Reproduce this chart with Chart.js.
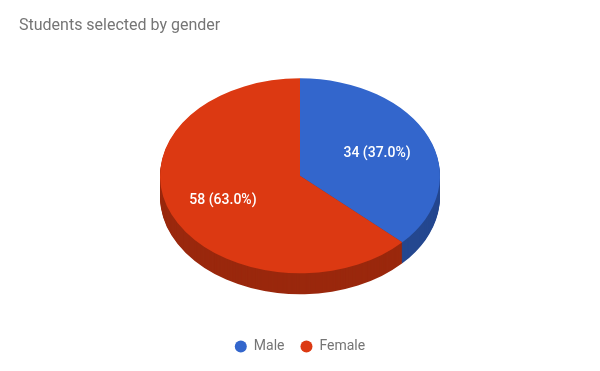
<!DOCTYPE html>
<html>
<head>
<meta charset="utf-8">
<style>html,body{margin:0;padding:0;background:#fff}canvas{display:block}</style>
<script src="https://cdn.jsdelivr.net/npm/chart.js@4"></script>
</head>
<body>
<canvas id="c" width="600" height="371"></canvas>
<script>
const titleText = "Students selected by gender";
const categories = ["Male", "Female"];
const counts = [34, 58];
const colors = ["#3366cc", "#dc3912"];
const sideColors = ["#24478f", "#9a280d"];
const percentLabels = ["34 (37.0%)", "58 (63.0%)"];
const labelFactorX = [0.60, 0.60];
const labelFactorY = [0.58, 0.64];

const centerY = 175.8, squash = 0.696, depth = 21;

function project(ctx, el, shift) {
  ctx.translate(0, centerY + shift);
  ctx.scale(1, squash);
  ctx.translate(0, -el.y);
}

const tilt = {
  id: "tilt",
  beforeDatasetDraw(chart, args) {
    const ctx = chart.ctx;
    const arcs = args.meta.data;
    for (let d = depth; d >= 1; d--) {
      arcs.forEach((el, i) => {
        const saved = el.options;
        el.options = Object.assign({}, saved, {backgroundColor: sideColors[i], borderColor: sideColors[i]});
        ctx.save();
        project(ctx, el, d);
        el.draw(ctx);
        ctx.restore();
        el.options = saved;
      });
    }
    ctx.save();
    project(ctx, arcs[0], 0);
    args.meta.controller.draw();
    ctx.restore();
    return false;
  }
};

const sliceLabels = {
  id: "sliceLabels",
  afterDraw(chart) {
    const ctx = chart.ctx;
    const arcs = chart.getDatasetMeta(0).data;
    ctx.save();
    ctx.font = "500 14px Roboto";
    ctx.fillStyle = "#ffffff";
    ctx.textAlign = "center";
    ctx.textBaseline = "middle";
    arcs.forEach((el, i) => {
      const mid = (el.startAngle + el.endAngle) / 2;
      const x = el.x + Math.cos(mid) * el.outerRadius * labelFactorX[i];
      const y = centerY + Math.sin(mid) * el.outerRadius * squash * labelFactorY[i];
      ctx.fillText(percentLabels[i], x, y);
    });
    ctx.restore();
  }
};

new Chart(document.getElementById("c"), {
  type: "pie",
  data: {
    labels: categories,
    datasets: [{
      data: counts,
      backgroundColor: colors,
      borderWidth: 0,
      radius: 140
    }]
  },
  options: {
    responsive: false,
    animation: false,
    layout: {padding: {left: 19, right: 19, top: 0, bottom: 7.6}},
    plugins: {
      tooltip: {enabled: false},
      title: {
        display: true,
        text: titleText,
        align: "start",
        color: "#757575",
        font: {family: "Roboto", size: 16, weight: "400"},
        padding: {top: 16.4, bottom: 0}
      },
      legend: {
        position: "bottom",
        labels: {
          usePointStyle: true,
          pointStyle: "circle",
          boxWidth: 12,
          boxHeight: 8.5,
          padding: 16,
          color: "#757575",
          font: {family: "Roboto", size: 14}
        }
      }
    }
  },
  plugins: [tilt, sliceLabels]
});
</script>
</body>
</html>
